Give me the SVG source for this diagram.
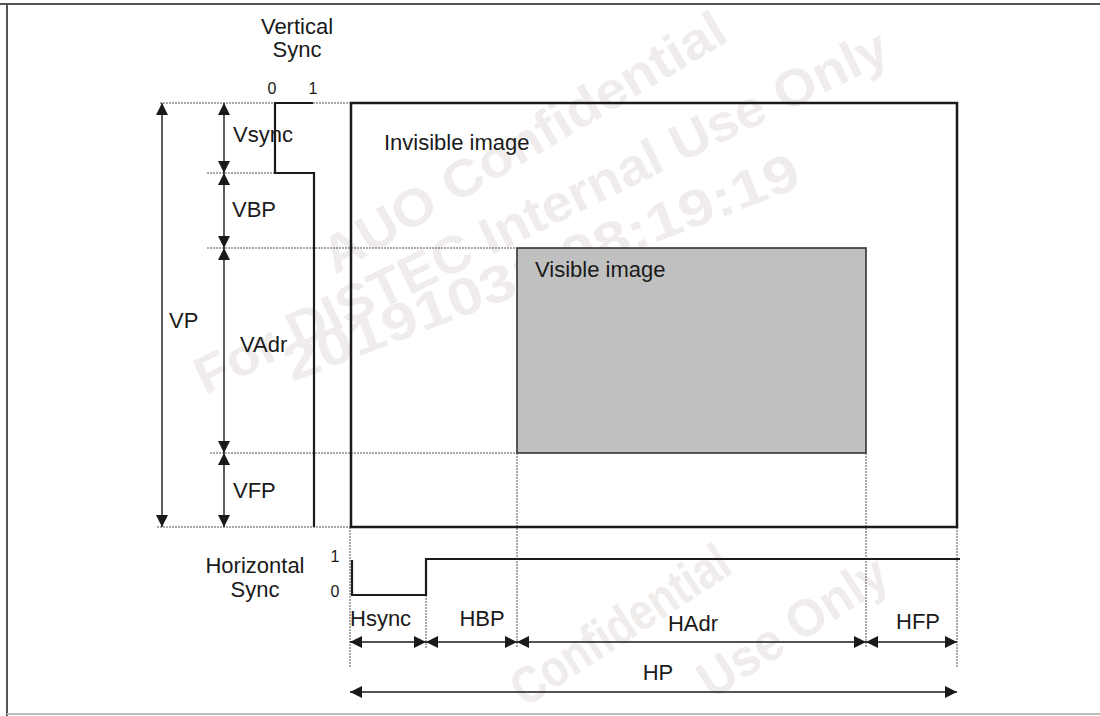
<svg xmlns="http://www.w3.org/2000/svg" width="1100" height="716" viewBox="0 0 1100 716">
<style>
.t{font-family:"Liberation Sans",Arial,sans-serif;font-size:22px;fill:#1a1a1a}
.d{font-size:16px}
.wm{font-family:"Liberation Sans",Arial,sans-serif;font-weight:bold;font-size:52px;fill:#efeceb}
.dot{stroke:#555;stroke-width:1;stroke-dasharray:2 1;fill:none}
.wave{stroke:#1a1a1a;stroke-width:2.2;fill:none}
.arr{stroke:#1a1a1a;stroke-width:1.4;fill:none;marker-start:url(#ah);marker-end:url(#ah)}
</style>
<defs>
<marker id="ah" viewBox="0 0 12 12" refX="12" refY="6" markerWidth="12" markerHeight="12" markerUnits="userSpaceOnUse" orient="auto-start-reverse">
<path d="M0,0 L12,6 L0,12 Z" fill="#1a1a1a"/>
</marker>
</defs>
<rect width="1100" height="716" fill="#fff"/>
<g id="watermark">
<text class="wm" transform="translate(335,275) rotate(-30.7)" textLength="460" lengthAdjust="spacingAndGlyphs">AUO Confidential</text>
<text class="wm" transform="translate(205,395) rotate(-26)" textLength="765" lengthAdjust="spacingAndGlyphs">For DISTEC Internal Use Only</text>
<text class="wm" transform="translate(292,382) rotate(-21)" textLength="548" lengthAdjust="spacingAndGlyphs">20191031 08:19:19</text>
<text class="wm" transform="translate(525,708) rotate(-33)" textLength="250" lengthAdjust="spacingAndGlyphs" font-size="44">Confidential</text>
<text class="wm" transform="translate(712,700) rotate(-33)" textLength="215" lengthAdjust="spacingAndGlyphs" font-size="44">Use Only</text>
</g>
<g id="frame">
<line x1="0" y1="4" x2="1100" y2="4" stroke="#555" stroke-width="2"/>
<line x1="7" y1="4" x2="7" y2="716" stroke="#555" stroke-width="2"/>
<line x1="7" y1="714" x2="1100" y2="714" stroke="#bbb" stroke-width="2"/>
</g>
<g id="guides">
<line class="dot" x1="160" y1="103" x2="350" y2="103"/>
<line class="dot" x1="207" y1="173" x2="275" y2="173"/>
<line class="dot" x1="207" y1="248" x2="517" y2="248"/>
<line class="dot" x1="210" y1="453" x2="517" y2="453"/>
<line class="dot" x1="157" y1="527" x2="350" y2="527"/>
<line class="dot" x1="350" y1="527" x2="350" y2="668"/>
<line class="dot" x1="426" y1="595" x2="426" y2="648"/>
<line class="dot" x1="517" y1="453" x2="517" y2="648"/>
<line class="dot" x1="866" y1="453" x2="866" y2="648"/>
<line class="dot" x1="957" y1="527" x2="957" y2="668"/>
</g>
<g id="invisible-image">
<rect x="351" y="103" width="606" height="424" fill="none" stroke="#1a1a1a" stroke-width="2.5"/>
<text class="t" x="384" y="150">Invisible image</text>
</g>
<g id="visible-image">
<rect x="517" y="248" width="349" height="205" fill="#c0c0c0" stroke="#333" stroke-width="1.6"/>
<text class="t" x="535" y="277">Visible image</text>
</g>
<g id="vertical-sync">
<text class="t" x="297" y="34" text-anchor="middle">Vertical</text>
<text class="t" x="297" y="57" text-anchor="middle">Sync</text>
<text class="t d" x="272" y="94" text-anchor="middle">0</text>
<text class="t d" x="313" y="94" text-anchor="middle">1</text>
<polyline class="wave" points="313,103 275,103 275,173 314,173 314,527"/>
</g>
<g id="horizontal-sync">
<text class="t" x="255" y="573" text-anchor="middle">Horizontal</text>
<text class="t" x="255" y="597" text-anchor="middle">Sync</text>
<text class="t d" x="335" y="562" text-anchor="middle">1</text>
<text class="t d" x="335" y="597" text-anchor="middle">0</text>
<polyline class="wave" points="352,560 352,595 426,595 426,559 960,559"/>
</g>
<g id="connectors">
<line class="arr" x1="162" y1="103" x2="162" y2="527"/>
<line class="arr" x1="224" y1="103" x2="224" y2="173"/>
<line class="arr" x1="224" y1="173" x2="224" y2="248"/>
<line class="arr" x1="224" y1="248" x2="224" y2="453"/>
<line class="arr" x1="224" y1="453" x2="224" y2="527"/>
<line class="arr" x1="350" y1="642" x2="426" y2="642"/>
<line class="arr" x1="426" y1="642" x2="517" y2="642"/>
<line class="arr" x1="517" y1="642" x2="866" y2="642"/>
<line class="arr" x1="866" y1="642" x2="957" y2="642"/>
<line class="arr" x1="350" y1="692" x2="957" y2="692"/>
</g>
<g id="labels">
<text class="t" x="233" y="142">Vsync</text>
<text class="t" x="232" y="217">VBP</text>
<text class="t" x="169" y="328">VP</text>
<text class="t" x="240" y="352">VAdr</text>
<text class="t" x="233" y="498">VFP</text>
<text class="t" x="350" y="626">Hsync</text>
<text class="t" x="482" y="626" text-anchor="middle">HBP</text>
<text class="t" x="693" y="631" text-anchor="middle">HAdr</text>
<text class="t" x="918" y="629" text-anchor="middle">HFP</text>
<text class="t" x="658" y="680" text-anchor="middle">HP</text>
</g>
</svg>
